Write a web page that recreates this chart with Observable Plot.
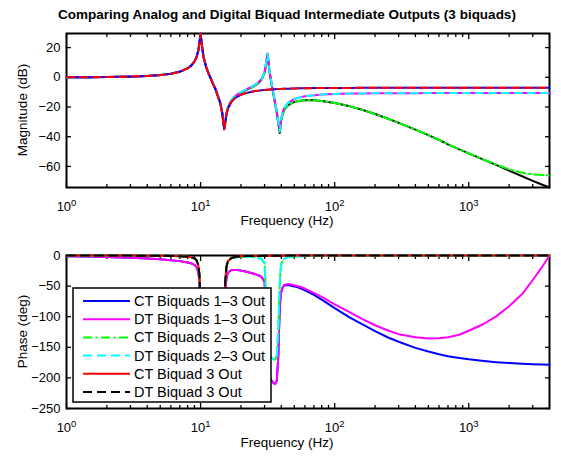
<!DOCTYPE html>
<html>
<head>
<meta charset="utf-8">
<script src="https://cdn.jsdelivr.net/npm/d3@7"></script>
<script src="https://cdn.jsdelivr.net/npm/@observablehq/plot@0.6"></script>
<style>
  html, body { margin: 0; padding: 0; background: #fff; }
  #fig { position: relative; width: 561px; height: 458px; background: #fff; font-family: "Liberation Sans", Arial, Helvetica, sans-serif; color: #000; }
  #title { position: absolute; left: 0; top: 7px; width: 574px; text-align: center; font-weight: bold; font-size: 13.5px; line-height: 16px; white-space: nowrap; }
  #topPanel, #botPanel { position: absolute; left: 0; }
  #topPanel { top: 25px; }
  #botPanel { top: 232px; }
</style>
</head>
<body>
<div id="fig">
  <div id="title">Comparing Analog and Digital Biquad Intermediate Outputs (3 biquads)</div>
  <div id="topPanel"></div>
  <div id="botPanel"></div>
</div>
<script>
// ---------------- data ----------------
const freq = [1, 1.5, 2, 3, 4, 5, 6, 7, 8, 8.5,
  9, 9.3, 9.6, 9.8, 10, 10.2, 10.5, 11, 11.5, 12,
  13, 14, 14.5, 14.8, 15, 15.3, 15.6, 16, 17, 18,
  20, 22, 25, 27, 28.5, 30, 31, 31.5, 32, 32.5,
  33, 34, 35, 36, 37, 38, 38.5, 39, 39.5, 40,
  41, 42, 45, 50, 55, 60, 70, 80, 100, 130,
  160, 200, 250, 300, 400, 500, 600, 700, 850, 1000,
  1300, 1600, 2000, 2500, 3000, 3500, 4000];

// Magnitude (dB)
const magA_ct = [0.04, 0.1, 0.19, 0.46, 0.87, 1.47, 2.35, 3.71, 5.98, 7.76,
  10.55, 13.16, 17.5, 22.8, 29.5, 22.3, 13.9, 6.8, 2.12, -1.7,
  -8.9, -17.4, -24.3, -31, -35, -30.4, -24.9, -21.1, -16.5, -14.1,
  -11.7, -10.5, -9.4, -8.97, -8.73, -8.5, -8.41, -8.36, -8.31, -8.27,
  -8.22, -8.15, -8.07, -8.01, -7.95, -7.9, -7.88, -7.86, -7.84, -7.81,
  -7.77, -7.72, -7.64, -7.51, -7.42, -7.36, -7.28, -7.22, -7.16, -7.12,
  -7.1, -7.08, -7.07, -7.06, -7.06, -7.05, -7.05, -7.05, -7.05, -7.05,
  -7.05, -7.05, -7.05, -7.05, -7.05, -7.05, -7.05];
const magA_dt = [0.04, 0.1, 0.19, 0.46, 0.87, 1.47, 2.35, 3.71, 5.98, 7.76,
  10.55, 13.16, 17.5, 22.8, 29.5, 22.3, 13.9, 6.8, 2.12, -1.7,
  -8.9, -17.4, -24.3, -31, -35, -30.4, -24.9, -21.1, -16.5, -14.1,
  -11.7, -10.5, -9.4, -8.97, -8.73, -8.5, -8.41, -8.36, -8.31, -8.27,
  -8.22, -8.15, -8.07, -8.01, -7.95, -7.9, -7.88, -7.86, -7.84, -7.81,
  -7.77, -7.72, -7.64, -7.51, -7.42, -7.36, -7.28, -7.22, -7.16, -7.12,
  -7.1, -7.08, -7.07, -7.06, -7.06, -7.05, -7.05, -7.05, -7.05, -7.05,
  -7.05, -7.05, -7.05, -7.05, -7.05, -7.05, -7.05];
const magB_ct = [0.04, 0.1, 0.2, 0.49, 0.92, 1.55, 2.46, 3.86, 6.18, 7.99,
  10.8, 13.43, 17.79, 23.1, 29.5, 22.63, 14.26, 7.19, 2.56, -1.22,
  -8.32, -16.71, -23.55, -30.2, -34.2, -29.55, -24.0, -20.15, -15.38, -12.8,
  -9.94, -8.11, -5.52, -3.35, -0.89, 3.69, 11.2, 16, 12, 6,
  2, -5, -11, -17, -23, -29.5, -33, -36.5, -31.5, -27.4,
  -23.2, -20.7, -17.1, -14.66, -13.5, -12.8, -12.06, -11.65, -11.23, -10.95,
  -10.83, -10.75, -10.7, -10.67, -10.65, -10.64, -10.63, -10.63, -10.62, -10.62,
  -10.62, -10.62, -10.62, -10.62, -10.62, -10.62, -10.62];
const magB_dt = [0.04, 0.1, 0.2, 0.49, 0.92, 1.55, 2.46, 3.86, 6.18, 7.99,
  10.8, 13.43, 17.79, 23.1, 29.5, 22.63, 14.26, 7.19, 2.56, -1.22,
  -8.32, -16.71, -23.55, -30.2, -34.2, -29.55, -24.0, -20.15, -15.38, -12.8,
  -9.94, -8.11, -5.52, -3.35, -0.89, 3.69, 11.2, 16, 12, 6,
  2, -5, -11, -17, -23, -29.5, -33, -36.5, -31.5, -27.4,
  -23.2, -20.7, -17.1, -14.66, -13.5, -12.8, -12.06, -11.65, -11.23, -10.95,
  -10.83, -10.75, -10.7, -10.67, -10.65, -10.64, -10.63, -10.63, -10.62, -10.62,
  -10.62, -10.62, -10.62, -10.62, -10.62, -10.62, -10.62];
const magC_ct = [0.04, 0.1, 0.2, 0.48, 0.91, 1.53, 2.43, 3.82, 6.13, 7.93,
  10.73, 13.36, 17.71, 23.0, 29.4, 22.54, 14.17, 7.09, 2.45, -1.34,
  -8.47, -16.88, -23.73, -30.39, -34.39, -29.75, -24.21, -20.37, -15.63, -13.08,
  -10.28, -8.52, -6.05, -3.96, -1.57, 2.94, 10.4, 15.2, 11.15, 5.13,
  1.1, -5.96, -12.02, -18.08, -24.14, -30.71, -34.24, -37.5, -32.8, -28.74,
  -24.6, -22.17, -18.77, -16.6, -15.8, -15.47, -15.52, -15.95, -17.25, -19.55,
  -21.86, -24.73, -27.91, -30.67, -35.26, -38.94, -42.2, -45.2, -48.5, -51.2,
  -55.6, -59.0, -62.8, -66.6, -69.7, -72.2, -74.2];
const magC_dt = [0.04, 0.1, 0.2, 0.48, 0.91, 1.53, 2.43, 3.82, 6.13, 7.93,
  10.73, 13.36, 17.71, 23.0, 29.4, 22.54, 14.17, 7.09, 2.45, -1.34,
  -8.47, -16.88, -23.73, -30.39, -34.39, -29.75, -24.21, -20.37, -15.63, -13.08,
  -10.28, -8.52, -6.05, -3.96, -1.57, 2.94, 10.4, 15.2, 11.15, 5.13,
  1.1, -5.96, -12.02, -18.08, -24.14, -30.71, -34.24, -37.5, -32.8, -28.74,
  -24.6, -22.17, -18.77, -16.6, -15.8, -15.47, -15.52, -15.95, -17.25, -19.55,
  -21.86, -24.73, -27.91, -30.67, -35.26, -38.94, -42.2, -45.2, -48.5, -51.2,
  -55.5, -58.7, -62.0, -64.3, -65.3, -65.8, -66.1];

// Phase (deg)
const ph13_ct = [-1.1, -1.8, -2.4, -3.6, -4.9, -6.2, -7.7, -9.2, -11.3, -12.7,
  -15.2, -18.1, -26.2, -41.4, -101.4, -161.6, -178.3, -185, -187, -188,
  -188.4, -185.5, -177, -156.3, -106.6, -58, -36.3, -27.8, -23.7, -23.5,
  -24.7, -26.5, -29.8, -32.5, -35, -43, -106, -167, -186, -195,
  -200, -205, -208.5, -209.7, -204.5, -164, -119, -84.5, -67.3, -58.5,
  -52, -49, -48.2, -50.5, -53.3, -57, -64.5, -72, -86, -101.5,
  -112, -123.5, -134, -141, -151, -157, -161.3, -164.5, -167.5, -169.7,
  -172.5, -174.3, -175.8, -176.9, -177.6, -178.2, -178.6];
const ph13_dt = [-1.1, -1.8, -2.4, -3.6, -4.9, -6.2, -7.7, -9.2, -11.3, -12.7,
  -15.2, -18.1, -26.2, -41.4, -101.4, -161.6, -178.3, -185, -187, -188,
  -188.4, -185.5, -177, -156.3, -106.6, -58, -36.3, -27.8, -23.7, -23.5,
  -24.7, -26.5, -29.8, -32.5, -35, -43, -106, -167, -186, -195,
  -200, -205, -208.5, -209.7, -204.5, -164, -119, -84.5, -67.3, -58.5,
  -51.5, -48, -46.5, -48.5, -51, -54, -61, -67.5, -80, -93,
  -103.5, -114, -122.5, -128.5, -133.5, -135.5, -135.2, -133.5, -129.5, -123,
  -111.5, -99.5, -83, -63, -40, -19.5, 0];
const ph23_ct = [0, -0.1, -0.1, -0.2, -0.3, -0.5, -0.8, -1.2, -2.1, -3,
  -4.9, -7.5, -15.2, -30.2, -90, -150, -166.3, -172.3, -173.8, -174.3,
  -173.6, -169.5, -160.5, -139.5, -89.5, -40.5, -18.5, -9.5, -4.4, -3.1,
  -2.1, -2, -2.7, -4, -5.8, -13, -75, -135, -152, -160,
  -164, -168, -170, -170, -164, -122, -76, -41, -23, -14,
  -8, -5.5, -3, -1.8, -1.2, -0.9, -0.6, -0.4, -0.3, -0.2,
  -0.1, 0, 0, 0, 0, 0, 0, 0, 0, 0,
  0, 0, 0, 0, 0, 0, 0];
const ph23_dt = [0, -0.1, -0.1, -0.2, -0.3, -0.5, -0.8, -1.2, -2.1, -3,
  -4.9, -7.5, -15.2, -30.2, -90, -150, -166.3, -172.3, -173.8, -174.3,
  -173.6, -169.5, -160.5, -139.5, -89.5, -40.5, -18.5, -9.5, -4.4, -3.1,
  -2.1, -2, -2.7, -4, -5.8, -13, -75, -135, -152, -160,
  -164, -168, -170, -170, -164, -122, -76, -41, -23, -14,
  -8, -5.5, -3, -1.8, -1.2, -0.9, -0.6, -0.4, -0.3, -0.2,
  -0.1, 0, 0, 0, 0, 0, 0, 0, 0, 0,
  0, 0, 0, 0, 0, 0, 0];
const ph3_ct = [0, -0.1, -0.1, -0.2, -0.3, -0.4, -0.7, -1.1, -1.9, -2.8,
  -4.7, -7.3, -15, -30, -90, -150, -166, -172, -173.5, -174,
  -173.2, -169, -160, -139, -89, -40, -18, -9, -4, -2.6,
  -1.4, -1, -0.8, -0.7, -0.6, -0.5, -0.5, -0.5, -0.4, -0.4,
  -0.4, -0.4, -0.3, -0.3, -0.3, -0.3, -0.3, -0.3, -0.3, -0.3,
  -0.3, -0.2, -0.2, -0.2, -0.1, -0.1, -0.1, -0.1, -0.1, 0,
  0, 0, 0, 0, 0, 0, 0, 0, 0, 0,
  0, 0, 0, 0, 0, 0, 0];
const ph3_dt = [0, -0.1, -0.1, -0.2, -0.3, -0.4, -0.7, -1.1, -1.9, -2.8,
  -4.7, -7.3, -15, -30, -90, -150, -166, -172, -173.5, -174,
  -173.2, -169, -160, -139, -89, -40, -18, -9, -4, -2.6,
  -1.4, -1, -0.8, -0.7, -0.6, -0.5, -0.5, -0.5, -0.4, -0.4,
  -0.4, -0.4, -0.3, -0.3, -0.3, -0.3, -0.3, -0.3, -0.3, -0.3,
  -0.3, -0.2, -0.2, -0.2, -0.1, -0.1, -0.1, -0.1, -0.1, 0,
  0, 0, 0, 0, 0, 0, 0, 0, 0, 0,
  0, 0, 0, 0, 0, 0, 0];

const legendLabels = ["CT Biquads 1–3 Out", "DT Biquads 1–3 Out", "CT Biquads 2–3 Out",
  "DT Biquads 2–3 Out", "CT Biquad 3 Out", "DT Biquad 3 Out"];
const xMajor = [1, 10, 100, 1000];
const xMinor = [2, 3, 4, 5, 6, 7, 8, 9, 20, 30, 40, 50, 60, 70, 80, 90,
  200, 300, 400, 500, 600, 700, 800, 900, 2000, 3000];
const magTicks = [-60, -40, -20, 0, 20];
const phTicks = [-250, -200, -150, -100, -50, 0];

// ---------------- helpers ----------------
const BLUE = "#0000ff", MAG = "#ff00ff", GREEN = "#00ff00", CYAN = "#00ffff", RED = "#ff0000", BLACK = "#000000";
const DASH = "9,5", DASHDOT = "9,3.5,2,3.5";
const rows = arr => freq.map((f, i) => ({f, v: arr[i]}));
const ln = (arr, stroke, dash) => Plot.line(rows(arr), {x: "f", y: "v", stroke, strokeWidth: 2, strokeDasharray: dash});

function axes(yTicks) {
  const tk = {fill: "none", label: null, strokeWidth: 1.3};
  return [
    Plot.axisX({anchor: "bottom", ticks: xMajor, tickSize: 0, tickPadding: 14, label: null,
      tickFormat: d => "10^" + Math.round(Math.log10(d))}),
    Plot.axisX({anchor: "bottom", ticks: xMajor, tickSize: -5, ...tk}),
    Plot.axisX({anchor: "bottom", ticks: xMinor, tickSize: -3, ...tk}),
    Plot.axisX({anchor: "top", ticks: xMajor, tickSize: -5, ...tk}),
    Plot.axisX({anchor: "top", ticks: xMinor, tickSize: -3, ...tk}),
    Plot.axisY({anchor: "left", ticks: yTicks, tickSize: 0, tickPadding: 6, label: null}),
    Plot.axisY({anchor: "left", ticks: yTicks, tickSize: -5, ...tk}),
    Plot.axisY({anchor: "right", ticks: yTicks, tickSize: -5, ...tk})
  ];
}
const style = {fontFamily: '"Liberation Sans", Arial, Helvetica, sans-serif', fontSize: "13px", color: "black", background: "transparent", overflow: "visible"};

function supers(svg) {
  d3.select(svg).selectAll('g[aria-label="x-axis tick label"] text').each(function () {
    const m = /^10\^(\d+)$/.exec(this.textContent);
    if (!m) return;
    const s = d3.select(this);
    s.text(null);
    s.append("tspan").text("10");
    s.append("tspan").attr("dy", "-0.45em").attr("font-size", "9.5px").text(m[1]);
  });
}
function addLabels(svg, xLabelY, yLabelY, yLabel) {
  const s = d3.select(svg);
  s.append("text").attr("x", 287).attr("y", xLabelY).attr("text-anchor", "middle")
    .attr("font-size", 13.5).attr("fill", "black").text("Frequency (Hz)");
  s.append("text").attr("transform", `translate(27,${yLabelY}) rotate(-90)`).attr("text-anchor", "middle")
    .attr("font-size", 13.5).attr("fill", "black").text(yLabel);
}

// ---------------- magnitude panel ----------------
const magSvg = Plot.plot({
  width: 561, height: 207,
  marginLeft: 66, marginRight: 12, marginTop: 8, marginBottom: 45,
  style,
  x: {type: "log", domain: [1, 4000]},
  y: {domain: [-74.2, 29.5]},
  marks: [
    Plot.frame({stroke: "black", strokeWidth: 2}),
    ...axes(magTicks),
    ln(magC_ct, BLACK), ln(magC_dt, GREEN, DASHDOT),
    ln(magB_ct, MAG), ln(magB_dt, CYAN, "7,6"),
    ln(magA_ct, BLUE), ln(magA_dt, RED, "8,5")
  ]
});
supers(magSvg);
addLabels(magSvg, 200, 85, "Magnitude (dB)");
document.getElementById("topPanel").appendChild(magSvg);

// ---------------- phase panel ----------------
const phSvg = Plot.plot({
  width: 561, height: 226,
  marginLeft: 66, marginRight: 12, marginTop: 23, marginBottom: 50,
  style,
  x: {type: "log", domain: [1, 4000]},
  y: {domain: [-250, 0]},
  marks: [
    Plot.frame({stroke: "black", strokeWidth: 2}),
    ...axes(phTicks),
    ln(ph13_ct, BLUE), ln(ph13_dt, MAG),
    ln(ph23_ct, GREEN, DASHDOT), ln(ph23_dt, CYAN, DASH),
    ln(ph3_ct, RED), ln(ph3_dt, BLACK, DASH)
  ]
});
supers(phSvg);
addLabels(phSvg, 215, 99.5, "Phase (deg)");

// legend
{
  const s = d3.select(phSvg);
  const styles = [[BLUE, null], [MAG, null], [GREEN, DASHDOT], [CYAN, DASH], [RED, null], [BLACK, DASH]];
  const g = s.append("g").attr("aria-label", "legend").attr("text-anchor", "start");
  g.append("rect").attr("x", 73).attr("y", 56).attr("width", 198).attr("height", 114)
    .attr("fill", "white").attr("stroke", "black").attr("stroke-width", 1.5);
  legendLabels.forEach((lab, i) => {
    const y = 69 + i * 18.2;
    g.append("line").attr("x1", 83).attr("x2", 130).attr("y1", y).attr("y2", y)
      .attr("stroke", styles[i][0]).attr("stroke-width", 2)
      .attr("stroke-dasharray", styles[i][1]);
    g.append("text").attr("x", 134).attr("y", y).attr("dy", "0.35em").attr("text-anchor", "start")
      .attr("font-size", 14.5).attr("fill", "black").text(lab);
  });
}
document.getElementById("botPanel").appendChild(phSvg);
</script>
</body>
</html>
